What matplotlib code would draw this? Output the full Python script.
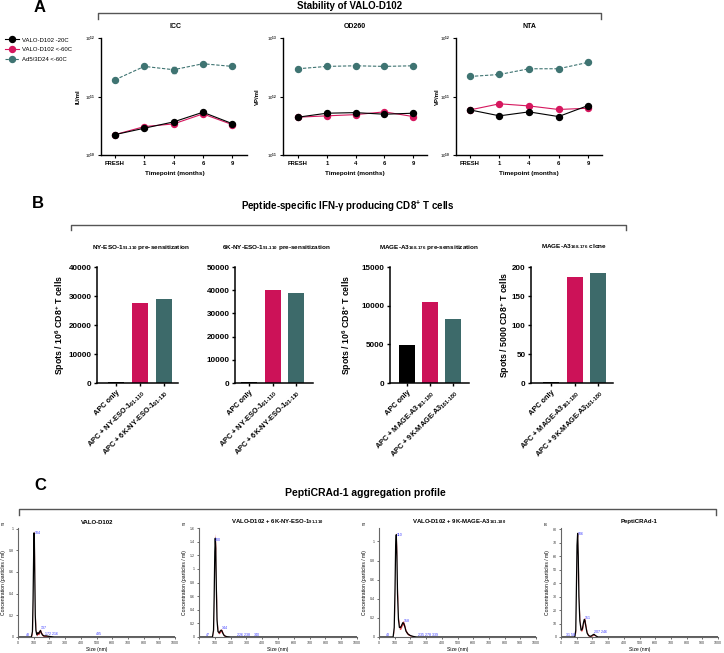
import matplotlib
matplotlib.use('Agg')
import matplotlib.pyplot as plt
from matplotlib.lines import Line2D
from matplotlib.ticker import FixedLocator, NullLocator, FuncFormatter

plt.rcParams['font.family'] = ['Liberation Sans', 'DejaVu Sans']
plt.rcParams['mathtext.fontset'] = 'custom'
plt.rcParams['mathtext.rm'] = 'Liberation Sans:bold'
plt.rcParams['mathtext.bf'] = 'Liberation Sans:bold'
plt.rcParams['mathtext.it'] = 'Liberation Sans:bold:italic'

# ---------------- data ----------------
timepoints = ['FRESH', '1', '4', '6', '9']
series_names = ['VALO-D102 -20C', 'VALO-D102 <-60C', 'Ad5/3D24 <-60C']
icc_m20 = [2.23e10, 2.87e10, 3.68e10, 5.38e10, 3.44e10]
icc_m60 = [2.23e10, 3.06e10, 3.40e10, 5.04e10, 3.31e10]
icc_ad5 = [1.93e11, 3.27e11, 2.87e11, 3.63e11, 3.27e11]
icc_ad5_err = [0, 0, 0.3e11, 0, 0]
od_m20 = [4.43e11, 5.18e11, 5.30e11, 4.98e11, 5.18e11]
od_m60 = [4.43e11, 4.67e11, 4.90e11, 5.46e11, 4.54e11]
od_ad5 = [2.98e12, 3.27e12, 3.35e12, 3.27e12, 3.35e12]
nta_m20 = [5.9e10, 4.67e10, 5.46e10, 4.54e10, 7.0e10]
nta_m60 = [5.9e10, 7.5e10, 6.9e10, 6.0e10, 6.3e10]
nta_ad5 = [2.2e11, 2.38e11, 2.98e11, 2.98e11, 3.83e11]

nyeso_groups = ['APC only', r'APC + NY-ESO-1$_{91\text{-}110}$', r'APC + 6K-NY-ESO-1$_{91\text{-}110}$']
mage_groups = ['APC only', r'APC + MAGE-A3$_{161\text{-}180}$', r'APC + 9K-MAGE-A3$_{161\text{-}180}$']
spots_nyeso = [300, 27500, 29000]
spots_6k = [600, 40200, 39000]
spots_mage = [4870, 10450, 8250]
spots_clone = [2, 183, 190]

# NTA profiles (size nm, concentration, error)
c1_size = [0, 45, 85, 92, 96, 100, 102, 104, 107, 110, 114, 120, 126, 132, 138, 143, 148, 155, 165, 180, 200, 230, 1000]
c1_conc = [0, 0, 0, 0.05, 0.35, 0.80, 0.96, 0.93, 0.55, 0.20, 0.06, 0.02, 0.04, 0.03, 0.05, 0.06, 0.04, 0.02, 0.01, 0.01, 0.005, 0, 0]
c1_err = [0, 0, 0, 0.02, 0.05, 0.05, 0.02, 0.04, 0.05, 0.04, 0.02, 0.01, 0.015, 0.01, 0.015, 0.015, 0.01, 0.01, 0.005, 0.005, 0.002, 0, 0]
c2_size = [0, 45, 85, 92, 96, 100, 103, 106, 110, 114, 120, 128, 135, 140, 145, 152, 160, 175, 200, 1000]
c2_conc = [0, 0, 0, 0.1, 0.6, 1.25, 1.45, 1.3, 0.7, 0.25, 0.08, 0.06, 0.09, 0.1, 0.09, 0.05, 0.02, 0.005, 0, 0]
c2_err = [0, 0, 0, 0.03, 0.08, 0.1, 0.07, 0.08, 0.08, 0.05, 0.02, 0.015, 0.02, 0.02, 0.02, 0.015, 0.01, 0.003, 0, 0]
c3_size = [0, 40, 90, 97, 102, 106, 110, 114, 118, 124, 130, 138, 146, 152, 158, 164, 172, 185, 200, 220, 240, 1000]
c3_conc = [0, 0, 0, 0.1, 0.5, 0.95, 1.07, 0.85, 0.45, 0.18, 0.10, 0.10, 0.13, 0.15, 0.14, 0.11, 0.06, 0.03, 0.015, 0.005, 0, 0]
c3_err = [0, 0, 0, 0.02, 0.05, 0.05, 0.03, 0.05, 0.05, 0.03, 0.02, 0.02, 0.02, 0.02, 0.02, 0.02, 0.015, 0.01, 0.005, 0.002, 0, 0]
c4_size = [0, 40, 88, 94, 98, 102, 106, 110, 114, 120, 128, 136, 142, 148, 152, 158, 166, 176, 190, 202, 210, 220, 235, 1000]
c4_conc = [0, 0, 0, 5, 35, 68, 77, 60, 30, 12, 5, 6, 10, 13, 12.5, 8, 3, 1, 0.5, 1.5, 2, 1, 0, 0]
c4_err = [0, 0, 0, 1.5, 3, 3, 1.5, 3, 3, 2, 1, 1, 1.5, 1.5, 1.5, 1.5, 1, 0.5, 0.3, 0.5, 0.5, 0.3, 0, 0]
c1_peaks = [(104, 0.94, '104'), (48, 0.0, '48'), (145, 0.06, '137'), (175, 0.01, '172 216'), (495, 0.01, '495')]
c2_peaks = [(100, 1.4, '100'), (47, 0.0, '47'), (144, 0.1, '144'), (240, 0.0, '226 238'), (350, 0.0, '340')]
c3_peaks = [(110, 1.05, '110'), (43, 0.0, '43'), (158, 0.15, '158'), (250, 0.0, '235 278 339')]
c4_peaks = [(106, 75, '106'), (35, 0.0, '31 58'), (151, 12.5, '151'), (210, 2, '207 246')]

# ---------------- figure ----------------
W, H = 724, 653
fig = plt.figure(figsize=(7.24, 6.53), dpi=100)

BLACK = '#000000'
RED = '#d6175e'
TEAL = '#3f7472'
BAR_RED = '#cc1258'
BAR_TEAL = '#3d6a6a'


def add_ax(l, t, r, b):
    return fig.add_axes([l / W, 1 - b / H, (r - l) / W, (b - t) / H])


def ft(x, y, s, **kw):
    kw.setdefault('ha', 'center')
    kw.setdefault('va', 'center')
    return fig.text(x / W, 1 - y / H, s, **kw)


def bracket(x0, x1, y, dy, color='#555555', lw=1.0):
    fig.add_artist(Line2D([x0 / W, x0 / W, x1 / W, x1 / W],
                          [1 - (y + dy) / H, 1 - y / H, 1 - y / H, 1 - (y + dy) / H],
                          color=color, lw=lw))


def prism(ax, lw=0.9):
    for s in ['top', 'right']:
        ax.spines[s].set_visible(False)
    for s in ['left', 'bottom']:
        ax.spines[s].set_linewidth(lw)


# ---------------- Panel A ----------------
ft(40, 8, 'A', fontsize=12, fontweight='bold')
ft(350, 6, 'Stability of VALO-D102', fontsize=7, fontweight='bold')
bracket(98, 601, 13, 6)

panelA = [
    ('ICC', 'IU/ml', (101, 38, 247, 155), 115, 29.3, (1e10, 1e12), icc_m20, icc_m60, icc_ad5, icc_ad5_err, 175, 78),
    ('OD260', 'VP/ml', (283, 38, 427, 155), 298, 28.8, (1e11, 1e13), od_m20, od_m60, od_ad5, None, 355, 257),
    ('NTA', 'VP/ml', (456, 38, 602, 155), 470, 29.5, (1e10, 1e12), nta_m20, nta_m60, nta_ad5, None, 529, 437),
]

handles = None
for title, ylab, box, x0px, step, ylim, m20, m60, ad5, ad5err, tx, ylx in panelA:
    ax = add_ax(*box)
    xs = range(len(timepoints))
    hr, = ax.plot(xs, m60, '-o', color=RED, ms=4.3, lw=0.8)
    hb, = ax.plot(xs, m20, '-o', color=BLACK, ms=4.3, lw=0.8)
    ht, = ax.plot(xs, ad5, '--o', color=TEAL, ms=4.3, lw=0.8, dashes=(3, 1.5))
    if ad5err is not None:
        ax.errorbar(xs, ad5, yerr=ad5err, fmt='none', ecolor=TEAL, elinewidth=0.8, capsize=1.5)
    if handles is None:
        handles = [hb, hr, ht]
    ax.set_yscale('log')
    ax.set_ylim(*ylim)
    l, t, r, b = box
    ax.set_xlim((l - x0px) / step, (r - x0px) / step)
    ax.yaxis.set_major_locator(FixedLocator([ylim[0], ylim[0] * 10, ylim[1]]))
    ax.yaxis.set_minor_locator(NullLocator())
    ax.yaxis.set_major_formatter(FuncFormatter(lambda v, p: r'10$^{%d}$' % round(__import__('math').log10(v))))
    ax.set_xticks(list(xs))
    ax.set_xticklabels(timepoints)
    prism(ax, 1.0)
    ax.tick_params(axis='both', direction='out', length=2, width=0.8, pad=2)
    ax.tick_params(axis='x', labelsize=4.2)
    ax.tick_params(axis='y', labelsize=3.2)
    for lab in ax.get_xticklabels():
        lab.set_fontweight('bold')
    ft(tx, 26, title, fontsize=5, fontweight='bold')
    ft(tx, 173, 'Timepoint (months)', fontsize=4.6, fontweight='bold')
    ft(ylx, 97, ylab, fontsize=4.3, fontweight='bold', rotation=90)

fig.legend(handles, series_names, loc='upper left', bbox_to_anchor=(3 / W, 1 - 35 / H),
           frameon=False, fontsize=4.3, handlelength=2.2, handletextpad=0.6,
           labelspacing=0.75, borderaxespad=0, prop={'size': 4.3, 'weight': 'normal'})

# ---------------- Panel B ----------------
ft(38, 203, 'B', fontsize=12, fontweight='bold')
ft(348, 206, r'Peptide-specific IFN-γ producing CD8$^{+}$ T cells', fontsize=7, fontweight='bold')
bracket(71, 626, 225, 5)

panelB = [
    (r'NY-ESO-1$_{91\text{-}110}$ pre-sensitization', (97, 267, 178, 383), 116, 24, spots_nyeso, nyeso_groups,
     40000, [0, 10000, 20000, 30000, 40000], 141, r'Spots / 10$^{6}$ CD8$^{+}$ T cells', 60),
    (r'6K-NY-ESO-1$_{91\text{-}110}$ pre-sensitization', (235, 267, 313, 383), 249, 23.5, spots_6k, nyeso_groups,
     50000, [0, 10000, 20000, 30000, 40000, 50000], 276, None, None),
    (r'MAGE-A3$_{168\text{-}176}$ pre-sensitization', (390, 267, 469, 383), 407, 23, spots_mage, mage_groups,
     15000, [0, 5000, 10000, 15000], 429, r'Spots / 10$^{6}$ CD8$^{+}$ T cells', 347),
    (r'MAGE-A3$_{168\text{-}176}$ clone', (531, 267, 613, 383), 551, 23.5, spots_clone, mage_groups,
     200, [0, 50, 100, 150, 200], 574, r'Spots / 5000 CD8$^{+}$ T cells', 505),
]
for title, box, x0px, step, vals, groups, ymax, yticks, tx, ylab, ylx in panelB:
    ax = add_ax(*box)
    xs = range(len(vals))
    ax.bar(xs, vals, width=16 / step, color=[BLACK, BAR_RED, BAR_TEAL], edgecolor='none')
    l, t, r, b = box
    ax.set_xlim((l - x0px) / step, (r - x0px) / step)
    ax.set_ylim(0, ymax)
    ax.set_yticks(yticks)
    ax.set_xticks(list(xs))
    ax.set_xticklabels(groups, rotation=45, ha='right', rotation_mode='anchor')
    prism(ax, 1.1)
    ax.tick_params(axis='both', direction='out', length=2.5, width=1.0, pad=1.5)
    ax.tick_params(axis='y', labelsize=5.8)
    ax.tick_params(axis='x', labelsize=5.3)
    for lab in ax.get_xticklabels() + ax.get_yticklabels():
        lab.set_fontweight('bold')
    ft(tx, 247, title, fontsize=4.6, fontweight='bold')
    if ylab:
        ft(ylx, 325, ylab, fontsize=6.3, fontweight='bold', rotation=90)

# ---------------- Panel C ----------------
ft(40, 485, 'C', fontsize=12, fontweight='bold')
ft(365, 493, 'PeptiCRAd-1 aggregation profile', fontsize=7.5, fontweight='bold')
bracket(19, 716, 509, 6)

panelC = [
    ('VALO-D102', (18, 528, 175, 637), c1_size, c1_conc, c1_err, c1_peaks, 1.005,
     [0, 0.2, 0.4, 0.6, 0.8, 1.0], 'E7', 97),
    (r'VALO-D102 + 6K-NY-ESO-1$_{91\text{-}110}$', (199, 528, 357, 637), c2_size, c2_conc, c2_err, c2_peaks, 1.6,
     [0, 0.2, 0.4, 0.6, 0.8, 1.0, 1.2, 1.4, 1.6], 'E7', 277),
    (r'VALO-D102 + 9K-MAGE-A3$_{161\text{-}180}$', (379, 528, 536, 637), c3_size, c3_conc, c3_err, c3_peaks, 1.14,
     [0, 0.2, 0.4, 0.6, 0.8, 1.0], 'E7', 459),
    ('PeptiCRAd-1', (561, 528, 718, 637), c4_size, c4_conc, c4_err, c4_peaks, 81,
     [0, 10, 20, 30, 40, 50, 60, 70, 80], 'E6', 639),
]
for title, box, sz, cc, ee, peaks, ymax, yticks, unit, tx in panelC:
    ax = add_ax(*box)
    lo = [c - e for c, e in zip(cc, ee)]
    hi = [c + e for c, e in zip(cc, ee)]
    ax.fill_between(sz, lo, hi, color='#e3242b', alpha=0.85, lw=0)
    ax.plot(sz, cc, color='black', lw=0.9)
    for px, py, s in peaks:
        ax.text(px, py, s, color='#3a3aff', fontsize=2.6, fontweight='normal', ha='left', va='bottom')
    ax.set_xlim(0, 1000)
    ax.set_ylim(0, ymax)
    ax.set_xticks(range(0, 1001, 100))
    ax.set_yticks(yticks)
    ax.set_yticklabels([('%g' % v) for v in yticks])
    for s in ['top', 'right']:
        ax.spines[s].set_visible(False)
    for s in ['left', 'bottom']:
        ax.spines[s].set_color('#666666')
        ax.spines[s].set_linewidth(0.8)
    ax.tick_params(axis='both', direction='out', length=1.5, width=0.5, pad=1.5, labelsize=2.6, colors='#333333')
    for lab in ax.get_xticklabels() + ax.get_yticklabels():
        lab.set_fontweight('normal')
    ax.set_xlabel('Size (nm)', fontsize=3.6, labelpad=1.5, fontweight='normal')
    ax.set_ylabel('Concentration (particles / ml)', fontsize=3.6, labelpad=2, fontweight='normal')
    l = box[0]
    ft(l - 15, 525, unit, fontsize=2.4, fontweight='normal')
    ft(tx, 522, title, fontsize=4.3, fontweight='bold')

fig.savefig('out.png', dpi=100)
